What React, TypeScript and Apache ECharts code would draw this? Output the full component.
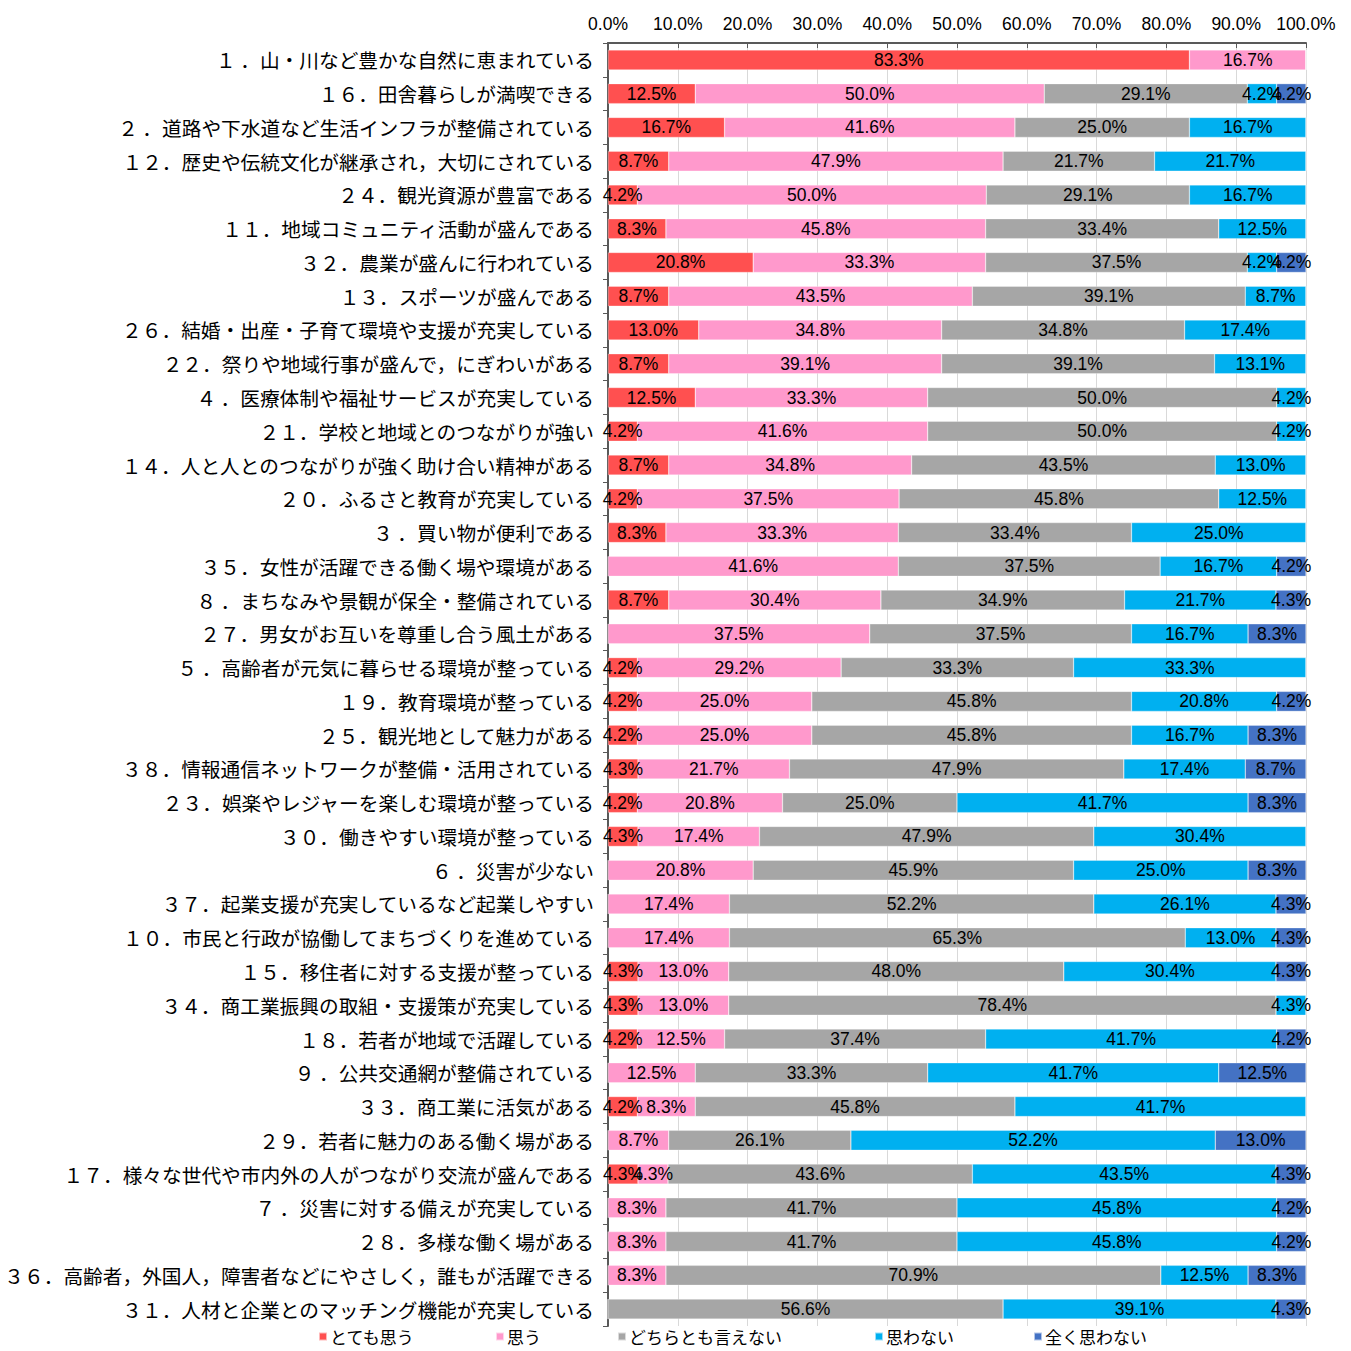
import React, { useEffect, useRef } from "react";
import * as echarts from "echarts";

const categories = [
  "１ ．山・川など豊かな自然に恵まれている",
  "１６．田舎暮らしが満喫できる",
  "２ ．道路や下水道など生活インフラが整備されている",
  "１２．歴史や伝統文化が継承され，大切にされている",
  "２４．観光資源が豊富である",
  "１１．地域コミュニティ活動が盛んである",
  "３２．農業が盛んに行われている",
  "１３．スポーツが盛んである",
  "２６．結婚・出産・子育て環境や支援が充実している",
  "２２．祭りや地域行事が盛んで，にぎわいがある",
  "４ ．医療体制や福祉サービスが充実している",
  "２１．学校と地域とのつながりが強い",
  "１４．人と人とのつながりが強く助け合い精神がある",
  "２０．ふるさと教育が充実している",
  "３ ．買い物が便利である",
  "３５．女性が活躍できる働く場や環境がある",
  "８ ．まちなみや景観が保全・整備されている",
  "２７．男女がお互いを尊重し合う風土がある",
  "５ ．高齢者が元気に暮らせる環境が整っている",
  "１９．教育環境が整っている",
  "２５．観光地として魅力がある",
  "３８．情報通信ネットワークが整備・活用されている",
  "２３．娯楽やレジャーを楽しむ環境が整っている",
  "３０．働きやすい環境が整っている",
  "６ ．災害が少ない",
  "３７．起業支援が充実しているなど起業しやすい",
  "１０．市民と行政が協働してまちづくりを進めている",
  "１５．移住者に対する支援が整っている",
  "３４．商工業振興の取組・支援策が充実している",
  "１８．若者が地域で活躍している",
  "９ ．公共交通網が整備されている",
  "３３．商工業に活気がある",
  "２９．若者に魅力のある働く場がある",
  "１７．様々な世代や市内外の人がつながり交流が盛んである",
  "７ ．災害に対する備えが充実している",
  "２８．多様な働く場がある",
  "３６．高齢者，外国人，障害者などにやさしく，誰もが活躍できる",
  "３１．人材と企業とのマッチング機能が充実している",
];

const seriesNames = ["とても思う", "思う", "どちらとも言えない", "思わない", "全く思わない"];

const totemoOmou = [83.3, 12.5, 16.7, 8.7, 4.2, 8.3, 20.8, 8.7, 13.0, 8.7, 12.5, 4.2, 8.7, 4.2, 8.3, 0, 8.7, 0, 4.2, 4.2, 4.2, 4.3, 4.2, 4.3, 0, 0, 0, 4.3, 4.3, 4.2, 0, 4.2, 0, 4.3, 0, 0, 0, 0];
const omou = [16.7, 50.0, 41.6, 47.9, 50.0, 45.8, 33.3, 43.5, 34.8, 39.1, 33.3, 41.6, 34.8, 37.5, 33.3, 41.6, 30.4, 37.5, 29.2, 25.0, 25.0, 21.7, 20.8, 17.4, 20.8, 17.4, 17.4, 13.0, 13.0, 12.5, 12.5, 8.3, 8.7, 4.3, 8.3, 8.3, 8.3, 0];
const dochira = [0, 29.1, 25.0, 21.7, 29.1, 33.4, 37.5, 39.1, 34.8, 39.1, 50.0, 50.0, 43.5, 45.8, 33.4, 37.5, 34.9, 37.5, 33.3, 45.8, 45.8, 47.9, 25.0, 47.9, 45.9, 52.2, 65.3, 48.0, 78.4, 37.4, 33.3, 45.8, 26.1, 43.6, 41.7, 41.7, 70.9, 56.6];
const omowanai = [0, 4.2, 16.7, 21.7, 16.7, 12.5, 4.2, 8.7, 17.4, 13.1, 4.2, 4.2, 13.0, 12.5, 25.0, 16.7, 21.7, 16.7, 33.3, 20.8, 16.7, 17.4, 41.7, 30.4, 25.0, 26.1, 13.0, 30.4, 4.3, 41.7, 41.7, 41.7, 52.2, 43.5, 45.8, 45.8, 12.5, 39.1];
const mattaku = [0, 4.2, 0, 0, 0, 0, 4.2, 0, 0, 0, 0, 0, 0, 0, 0, 4.2, 4.3, 8.3, 0, 4.2, 8.3, 8.7, 8.3, 0, 8.3, 4.3, 4.3, 4.3, 0, 4.2, 12.5, 0, 13.0, 4.3, 4.2, 4.2, 8.3, 4.3];

const xTicks = ["0.0%", "10.0%", "20.0%", "30.0%", "40.0%", "50.0%", "60.0%", "70.0%", "80.0%", "90.0%", "100.0%"];

const colors = ["#FF5050", "#FF99CC", "#A6A6A6", "#00B0F0", "#4472C4"];
const legendLefts = [318, 495, 617, 874, 1033];

const NUM = "'Liberation Sans', 'Noto Sans', sans-serif";
const JP = "'Noto Sans CJK JP', sans-serif";

export default function App() {
  const ref = useRef<HTMLDivElement>(null);
  useEffect(() => {
    if (!ref.current) return;
    const chart = echarts.init(ref.current, null, { renderer: "svg" });
    const all = [totemoOmou, omou, dochira, omowanai, mattaku];
    const series = all.map((vals, i) => ({
      name: seriesNames[i],
      type: "bar",
      stack: "total",
      barWidth: 20,
      data: vals,
      itemStyle: { color: colors[i], borderColor: "rgba(255,255,255,0.6)", borderWidth: 0.5 },
      label: {
        show: true,
        position: "inside",
        color: "#000",
        fontFamily: NUM,
        fontSize: 17.5,
        formatter: (p: any) => (p.value > 0 ? p.value.toFixed(1) + "%" : ""),
      },
    }));
    chart.setOption({
      animation: false,
      backgroundColor: "#fff",
      grid: { left: 608, right: 45, top: 43, bottom: 25, containLabel: false },
      legend: seriesNames.map((n, i) => ({
        data: [n],
        left: legendLefts[i],
        top: 1328,
        icon: "rect",
        itemWidth: 8,
        itemHeight: 8,
        itemGap: 4,
        textStyle: { fontFamily: JP, fontSize: 17, color: "#000", padding: [0, 0, 0, -2] },
        padding: 0,
      })),
      xAxis: {
        type: "value",
        position: "top",
        min: 0,
        max: 100,
        interval: 10,
        axisLine: { show: true, lineStyle: { color: "#595959", width: 2 } },
        axisTick: { show: true, inside: true, length: 5, lineStyle: { color: "#595959" } },
        splitLine: { show: true, lineStyle: { color: "#D9D9D9", width: 1 } },
        axisLabel: {
          color: "#000",
          fontFamily: NUM,
          fontSize: 17.5,
          margin: 10,
          formatter: (v: number) => xTicks[Math.round(v / 10)],
        },
      },
      yAxis: {
        type: "category",
        inverse: true,
        data: categories,
        axisLine: { show: true, lineStyle: { color: "#595959", width: 2 } },
        axisTick: { show: true, length: 5, lineStyle: { color: "#595959" } },
        axisLabel: { color: "#000", fontFamily: JP, fontSize: 19.7, margin: 14 },
      },
      series,
    });
    return () => chart.dispose();
  }, []);
  return <div ref={ref} style={{ width: 1351, height: 1351, position: "absolute", left: 0, top: 0 }} />;
}
